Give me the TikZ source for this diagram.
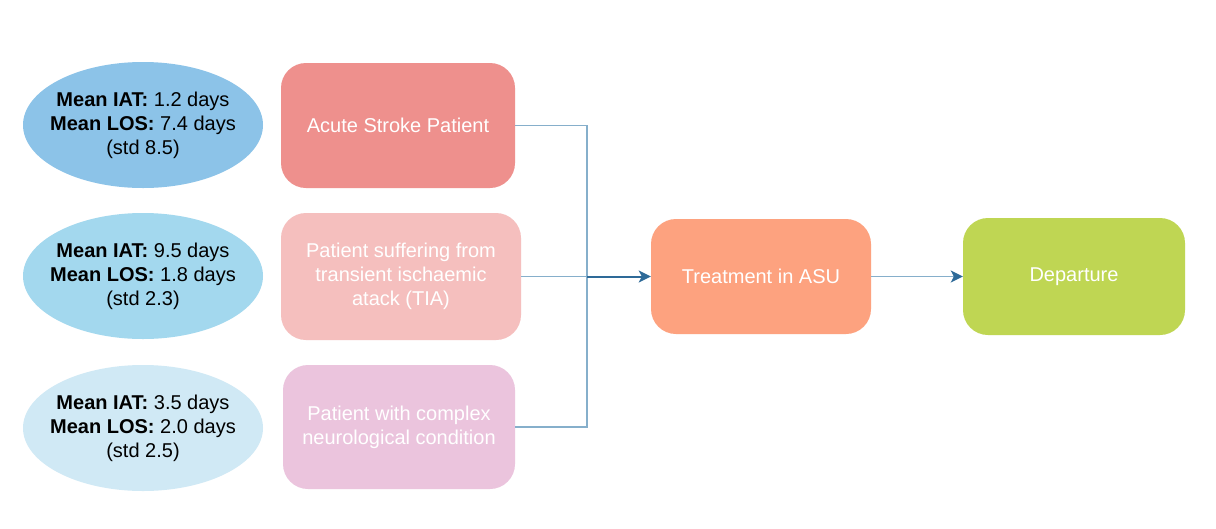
\documentclass[tikz,border=0pt]{standalone}
\usepackage{fontspec}
\setmainfont{Liberation Sans}
\usetikzlibrary{shapes.geometric,arrows.meta}
\definecolor{ellA}{HTML}{8CC3E8}
\definecolor{ellB}{HTML}{A3D8EE}
\definecolor{ellC}{HTML}{D0E9F5}
\definecolor{boxA}{HTML}{EE908D}
\definecolor{boxB}{HTML}{F5BFBE}
\definecolor{boxC}{HTML}{EBC4DD}
\definecolor{boxT}{HTML}{FDA27F}
\definecolor{boxD}{HTML}{BFD653}
\definecolor{lnlight}{HTML}{86AFCB}
\definecolor{lndark}{HTML}{2E6A98}
\tikzset{
  txt/.style={font=\fontsize{20}{24}\selectfont, align=center},
  ell/.style={ellipse, txt, text=black, inner xsep=-35pt, inner ysep=-5pt, minimum width=240pt, minimum height=126pt},
  stagebox/.style={rectangle, rounded corners=25pt, txt, text=white, inner sep=0pt},
  light/.style={draw=lnlight, line width=1.7pt},
  dark/.style={draw=lndark, line width=2pt},
  tip/.style={-{Stealth[length=12pt,width=12pt,inset=3pt,color=lndark]}}
}
\begin{document}
\begin{tikzpicture}[x=1pt,y=-1pt]
\fill[white] (0,0) rectangle (1216,528);
\useasboundingbox (0,0) rectangle (1216,528);

\node[ell, fill=ellA] (e1) at (143,125) {\textbf{Mean IAT:} 1.2 days\\\textbf{Mean LOS:} 7.4 days\\(std 8.5)};
\node[ell, fill=ellB] (e2) at (143,276) {\textbf{Mean IAT:} 9.5 days\\\textbf{Mean LOS:} 1.8 days\\(std 2.3)};
\node[ell, fill=ellC] (e3) at (143,428) {\textbf{Mean IAT:} 3.5 days\\\textbf{Mean LOS:} 2.0 days\\(std 2.5)};

\node[stagebox, fill=boxA, minimum width=234pt, minimum height=125pt] (b1) at (398,125.5) {Acute Stroke Patient};
\node[stagebox, fill=boxB, minimum width=240pt, minimum height=127pt] (b2) at (401,276.5) {Patient suffering from\\transient ischaemic\\atack (TIA)};
\node[stagebox, fill=boxC, minimum width=232pt, minimum height=124pt] (b3) at (399,427) {Patient with complex\\neurological condition};

\node[stagebox, fill=boxT, minimum width=220pt, minimum height=115pt] (tr) at (761,276.5) {Treatment in ASU};
\node[stagebox, fill=boxD, minimum width=222pt, minimum height=117pt] (dp) at (1074,276.5) {Departure};

\coordinate (j) at (587,276.5);

\draw[light] (b1.east) -| (j);
\draw[light] (b3.east) -| (j);
\draw[light] (b2.east) -- (j);
\draw[dark, tip] (j) -- (tr.west);
\draw[light, tip] (tr.east) -- (dp.west);
\end{tikzpicture}
\end{document}
